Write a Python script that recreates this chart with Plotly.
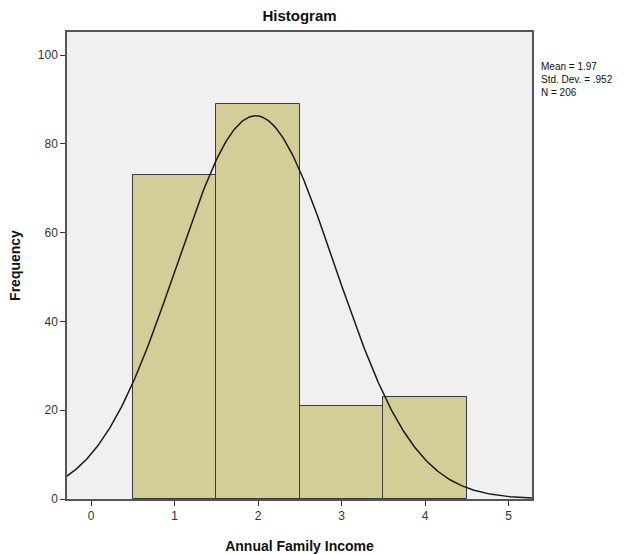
import numpy as np
import plotly.graph_objects as go

# Income categories and their counts
income_levels = [1, 2, 3, 4]
frequencies = [73, 89, 21, 23]

# Summary statistics shown beside the plot
mean_val = 1.97
std_val = 0.952
n_total = 206
bin_width = 1.0

x_ticks = [0, 1, 2, 3, 4, 5]
y_ticks = [0, 20, 40, 60, 80, 100]

# Normal curve scaled to the histogram counts
xs = np.linspace(-0.3, 5.3, 400)
ys = n_total * bin_width / (std_val * np.sqrt(2 * np.pi)) * np.exp(-0.5 * ((xs - mean_val) / std_val) ** 2)

fig = go.Figure()
fig.add_trace(go.Bar(
    x=income_levels, y=frequencies, width=1.0,
    marker=dict(color="#D3CE97", line=dict(color="#3a3a3a", width=1)),
    hoverinfo="skip",
))
fig.add_trace(go.Scatter(
    x=xs, y=ys, mode="lines",
    line=dict(color="#1a1a1a", width=1.5),
    hoverinfo="skip",
))

axis_font = dict(family="Liberation Sans, Arial, sans-serif", size=12, color="#333")

fig.update_layout(
    width=634, height=554,
    margin=dict(l=67, r=102, t=32, b=55),
    paper_bgcolor="white",
    plot_bgcolor="#F0F0F0",
    showlegend=False,
    bargap=0,
    font=dict(family="Liberation Sans, Arial, sans-serif", color="#222"),
    title=dict(
        text="<b>Histogram</b>", x=0.5, xref="paper", xanchor="center",
        y=1 - 16 / 554, yref="container", yanchor="middle",
        font=dict(size=15, color="#111"),
    ),
    xaxis=dict(
        range=[-0.29, 5.28], tickvals=x_ticks, showgrid=False, zeroline=False,
        showline=True, linecolor="#555", linewidth=1.5, mirror=True,
        ticks="outside", ticklen=5, tickcolor="#333", tickfont=axis_font,
        automargin=False,
        title=dict(text="<b>Annual Family Income</b>", font=dict(size=14, color="#111"), standoff=19),
    ),
    yaxis=dict(
        range=[0, 105.2], tickvals=y_ticks, showgrid=False, zeroline=False,
        showline=True, linecolor="#555", linewidth=1.5, mirror=True,
        ticks="outside", ticklen=5, tickcolor="#333", tickfont=axis_font,
        automargin=False,
        title=dict(text="<b>Frequency</b>", font=dict(size=14, color="#111"), standoff=14),
    ),
    annotations=[dict(
        x=1.015, y=0.942, xref="paper", yref="paper", xanchor="left", yanchor="top",
        align="left", showarrow=False,
        text=f"Mean = {mean_val:.2f}<br>Std. Dev. = {str(std_val)[1:]}<br>N = {n_total}",
        font=dict(size=10, color="#111"),
    )],
)

fig.write_html("out.html")
